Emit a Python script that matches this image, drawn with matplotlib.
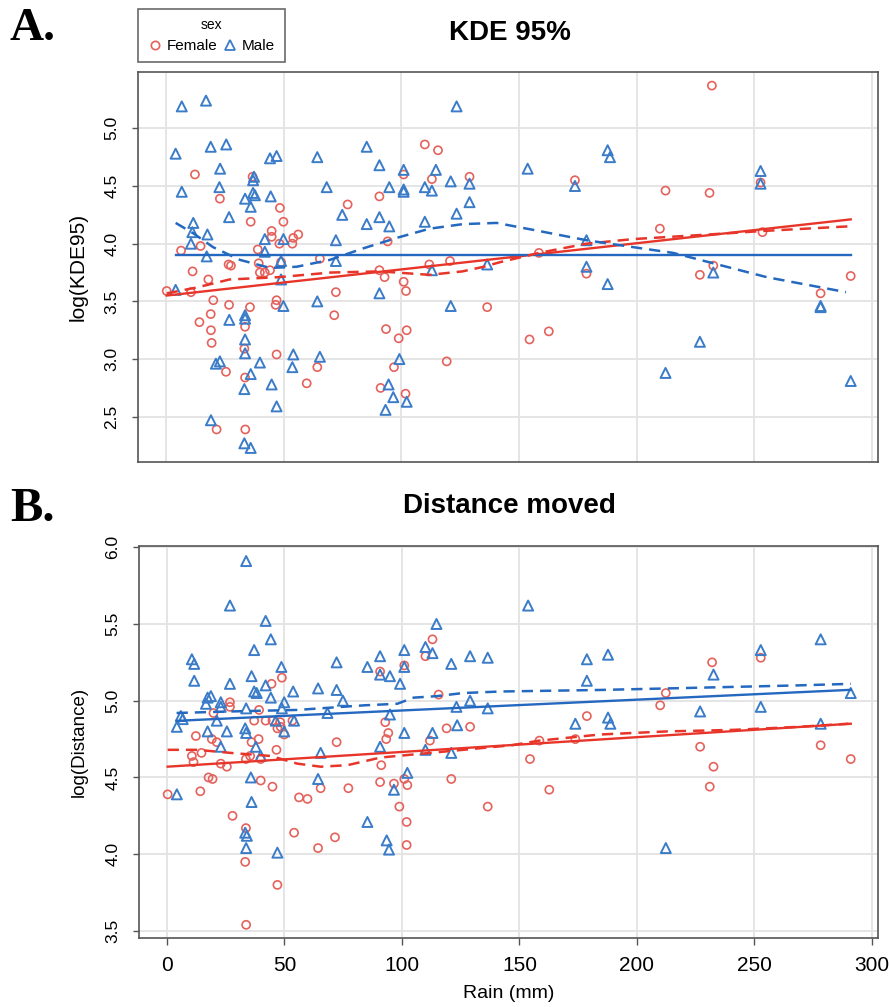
import matplotlib
matplotlib.use("Agg")
import matplotlib.pyplot as plt
import numpy as np
from matplotlib.lines import Line2D

# ---------------- Panel A data: log(KDE95) ----------------
male_rain_A = [6.7, 17, 123.5, 4.1, 19, 25.6, 23, 22.7, 6.7, 37.4, 37, 37, 37.8, 33.6, 36,
               44.2, 47, 44.5, 26.8, 11.6, 11.2, 17.6, 10.6, 17.3, 4.1, 42, 49.9, 42, 48.9,
               48.9, 49.9, 64.3, 68.3, 74.9, 72.2, 72.2, 64.3, 85.3, 90.7, 94.9, 90.7, 85.3,
               94.9, 90.7, 101, 101, 101, 110, 113, 114.7, 121, 129, 129, 123.5, 110, 113,
               121, 136.5, 26.9, 33.6, 33.6, 21.2, 22.9, 33.6, 33.6, 36, 39.9, 33.3, 44.9,
               47, 54.1, 53.7, 65.4, 99.2, 94.6, 96.6, 93.3, 102.3, 19.1, 33.3, 36,
               153.7, 187.7, 188.7, 173.8, 178.7, 178.7, 187.7, 252.7, 252.7, 232.6, 226.9,
               212.3, 278.2, 278.2, 291]
male_kde = [5.19, 5.24, 5.19, 4.78, 4.84, 4.86, 4.65, 4.49, 4.45, 4.58, 4.55, 4.44, 4.42, 4.39, 4.32,
            4.74, 4.76, 4.41, 4.23, 4.18, 4.10, 4.08, 4.00, 3.89, 3.60, 4.04, 4.04, 3.93, 3.85,
            3.69, 3.46, 4.75, 4.49, 4.25, 4.03, 3.85, 3.50, 4.84, 4.68, 4.49, 4.23, 4.17,
            4.15, 3.57, 4.64, 4.47, 4.45, 4.49, 4.46, 4.64, 4.54, 4.52, 4.36, 4.26, 4.19, 3.77,
            3.46, 3.82, 3.34, 3.38, 3.35, 2.96, 2.98, 3.17, 3.05, 2.87, 2.97, 2.74, 2.78,
            2.59, 3.04, 2.93, 3.02, 3.00, 2.78, 2.67, 2.56, 2.63, 2.47, 2.27, 2.23,
            4.65, 4.81, 4.75, 4.50, 4.03, 3.80, 3.65, 4.63, 4.52, 3.75, 3.15,
            2.88, 3.46, 3.45, 2.81]

female_rain_A = [110, 115.6, 101, 113, 129, 12.3, 36.8, 22.9, 90.7, 77.2, 48.4, 49.9, 36, 44.9,
                 44.9, 48.2, 54.1, 56.2, 53.7, 14.7, 6.4, 39, 39.4, 48.9, 26.6, 27.6, 65.4, 94.2,
                 39.9, 42, 44.2, 11.3, 18, 0.3, 10.6, 20.1, 26.8, 19, 14.2, 19.1, 19.4, 33.6,
                 35.7, 47, 46.6, 72.2, 71.5, 90.7, 92.9, 101, 102, 111.9, 120.7, 136.5, 93.5,
                 98.9, 102.3, 33.3, 25.5, 33.6, 47, 64.3, 59.8, 96.9, 91.2, 101.8, 119.3, 21.5,
                 33.7, 232, 173.8, 212.3, 231, 252.7, 209.9, 158.5, 178.7, 226.9, 232.6, 291,
                 278.2, 154.5, 162.7, 253.5]
female_kde = [4.86, 4.81, 4.60, 4.56, 4.58, 4.60, 4.58, 4.39, 4.41, 4.34, 4.31, 4.19, 4.19, 4.11,
              4.06, 4.00, 4.05, 4.08, 4.00, 3.98, 3.94, 3.95, 3.83, 3.84, 3.82, 3.81, 3.87, 4.02,
              3.75, 3.75, 3.77, 3.76, 3.69, 3.59, 3.58, 3.51, 3.47, 3.39, 3.32, 3.25, 3.14, 3.28,
              3.45, 3.51, 3.47, 3.58, 3.38, 3.77, 3.71, 3.67, 3.59, 3.82, 3.85, 3.45, 3.26,
              3.18, 3.25, 3.09, 2.89, 2.84, 3.04, 2.93, 2.79, 2.93, 2.75, 2.70, 2.98, 2.39,
              2.39, 5.37, 4.55, 4.46, 4.44, 4.53, 4.13, 3.92, 3.74, 3.73, 3.81, 3.72,
              3.57, 3.17, 3.24, 4.10]

# fitted lines panel A (intercept, slope) and smoother curves
female_fit_A = (3.55, 0.00227)
male_fit_A = (3.90, 0.0)
female_smooth_A_x = [0.3, 13, 27, 48, 70, 91, 112, 126, 135, 142, 158.5, 178.7, 198.6, 231, 253.5, 290]
female_smooth_A_y = [3.57, 3.62, 3.69, 3.71, 3.75, 3.76, 3.73, 3.76, 3.80, 3.84, 3.92, 4.00, 4.04, 4.08, 4.11, 4.15]
male_smooth_A_x = [4.1, 11.6, 20, 31.4, 44.2, 55.5, 69.7, 83.9, 98, 112, 126.3, 140.5, 156, 178.7, 198.6, 215.6, 232.6, 255.3, 289]
male_smooth_A_y = [4.18, 4.09, 3.97, 3.86, 3.79, 3.80, 3.86, 3.96, 4.05, 4.13, 4.17, 4.18, 4.12, 4.03, 3.97, 3.92, 3.83, 3.71, 3.58]

# ---------------- Panel B data: log(Distance) ----------------
male_rain_B = [33.7, 26.8, 42, 44.2, 37.1, 10.6, 11.6, 11.6, 48.7, 36, 26.8, 37.1, 38.2, 42, 44.2,
               49.9, 53.7, 18.7, 17.3, 16.6, 22.9, 22.9, 33.7, 48.9, 64.3, 72.2, 72.2, 74.9, 85.3,
               90.7, 90.7, 94.9, 99.2, 101, 101, 110, 113, 114.7, 121, 129, 136.5, 123.2, 129,
               136.5, 68.3, 94.9, 5.9, 6.7, 4.2, 21.2, 17.3, 25.5, 33.3, 33.7, 46.3, 49.9, 54.1,
               22.9, 37.8, 39.9, 65.4, 90.7, 101, 113, 123.5, 110, 121, 35.7, 4.2, 64.3, 102.3,
               96.6, 36, 85.3, 33.3, 34, 33.7, 47, 93.5, 94.5,
               153.7, 178.7, 187.7, 178.7, 173.8, 187.7, 188.7, 226.9, 232.6, 252.7, 252.7,
               278.2, 278.2, 291, 212.3]
male_dist = [5.91, 5.62, 5.52, 5.40, 5.33, 5.27, 5.24, 5.13, 5.22, 5.16, 5.11, 5.06, 5.05, 5.10, 5.02,
             4.99, 5.06, 5.03, 5.02, 4.98, 4.99, 4.96, 4.95, 4.95, 5.08, 5.07, 5.25, 5.00, 5.22,
             5.29, 5.17, 5.16, 5.11, 5.33, 5.22, 5.35, 5.31, 5.50, 5.24, 5.29, 5.28, 4.96, 5.00,
             4.95, 4.92, 4.91, 4.90, 4.88, 4.83, 4.87, 4.80, 4.80, 4.82, 4.79, 4.87, 4.80, 4.87,
             4.70, 4.70, 4.64, 4.66, 4.70, 4.79, 4.79, 4.84, 4.68, 4.66, 4.50, 4.39, 4.49, 4.53,
             4.42, 4.34, 4.21, 4.14, 4.12, 4.04, 4.01, 4.09, 4.03,
             5.62, 5.27, 5.30, 5.13, 4.85, 4.89, 4.85, 4.93, 5.17, 5.33, 4.96,
             5.40, 4.85, 5.05, 4.04]

female_rain_B = [113, 110, 101, 90.7, 48.9, 44.5, 115.6, 26.8, 26.8, 19.8, 39.2, 37.1, 42, 44.9,
                 48.2, 48.4, 47, 49.9, 53.4, 12.3, 19.1, 21.2, 39, 36, 46.6, 72.2, 92.9, 94.2,
                 93.3, 111.9, 119, 129, 0.3, 10.6, 11.3, 14.7, 22.9, 25.5, 33.6, 35.4, 39.9,
                 17.7, 19.4, 14.2, 39.9, 44.9, 91.2, 90.7, 96.6, 101, 102.3, 121, 65.4, 77.2,
                 56.2, 59.8, 98.9, 136.5, 27.9, 102, 33.6, 54.1, 71.5, 64.3, 102, 33.3, 47, 33.7,
                 232, 252.7, 212.3, 209.9, 178.7, 158.5, 173.8, 154.5, 162.7, 226.9, 232.6,
                 231, 278.2, 291]
female_dist = [5.40, 5.29, 5.23, 5.19, 5.15, 5.11, 5.04, 4.99, 4.96, 4.92, 4.94, 4.87, 4.87, 4.87,
               4.86, 4.83, 4.82, 4.78, 4.87, 4.77, 4.75, 4.73, 4.75, 4.73, 4.68, 4.73, 4.86, 4.79,
               4.75, 4.74, 4.82, 4.83, 4.39, 4.64, 4.60, 4.66, 4.59, 4.57, 4.62, 4.64, 4.62,
               4.50, 4.49, 4.41, 4.48, 4.44, 4.58, 4.47, 4.46, 4.49, 4.45, 4.49, 4.43, 4.43,
               4.37, 4.36, 4.31, 4.31, 4.25, 4.21, 4.17, 4.14, 4.11, 4.04, 4.06, 3.95, 3.80, 3.54,
               5.25, 5.28, 5.05, 4.97, 4.90, 4.74, 4.75, 4.62, 4.42, 4.70, 4.57,
               4.44, 4.71, 4.62]

female_fit_B = (4.57, 0.000962)
male_fit_B = (4.866, 0.000704)
female_smooth_B_x = [0.3, 13, 27, 44.2, 55.5, 65.4, 76.8, 91, 105, 119, 133, 146.8, 158.5, 184.4, 212.8, 241, 269, 290]
female_smooth_B_y = [4.68, 4.68, 4.66, 4.64, 4.59, 4.57, 4.58, 4.63, 4.65, 4.67, 4.69, 4.71, 4.74, 4.78, 4.80, 4.81, 4.83, 4.85]
male_smooth_B_x = [4.1, 27, 55.5, 84, 98, 105, 115, 126, 142, 184, 213, 241, 269, 291]
male_smooth_B_y = [4.92, 4.93, 4.94, 4.97, 4.98, 5.02, 5.03, 5.05, 5.06, 5.07, 5.08, 5.09, 5.10, 5.11]

x_ticks = [0, 50, 100, 150, 200, 250, 300]
yticks_A = [2.5, 3.0, 3.5, 4.0, 4.5, 5.0]
yticks_B = [3.5, 4.0, 4.5, 5.0, 5.5, 6.0]

# ---------------- styling ----------------
RED_PT = '#E5625C'
BLUE_PT = '#3B7CC9'
RED_LN = '#E8352A'
BLUE_LN = '#2468C0'
GRID = '#E3E3E3'
SPINE = '#555555'

plt.rcParams['font.family'] = ['Liberation Sans', 'DejaVu Sans']

fig = plt.figure(figsize=(8.89, 10.07), dpi=100)
axA = fig.add_axes([138/889, 1-462/1007, 740/889, 390/1007])
axB = fig.add_axes([139/889, 1-938/1007, 739/889, 392/1007])

XLIM = (-11.9, 302.6)


def style(ax, yticks, ylim, show_x):
    ax.set_xlim(*XLIM)
    ax.set_ylim(*ylim)
    ax.set_xticks(x_ticks)
    ax.set_yticks(yticks)
    ax.grid(True, color=GRID, linewidth=1.3, zorder=0)
    ax.set_axisbelow(True)
    for s in ax.spines.values():
        s.set_color(SPINE)
        s.set_linewidth(1.2)
    ax.tick_params(axis='y', direction='out', length=4.5, width=1, color=SPINE,
                   labelsize=12.5, pad=9)
    for lab in ax.get_yticklabels():
        lab.set_rotation(90)
        lab.set_va('center')
    if show_x:
        ax.tick_params(axis='x', direction='out', length=5, width=1, color=SPINE,
                       labelsize=15, pad=8)
    else:
        ax.tick_params(axis='x', length=0, labelbottom=False)


def draw(ax, fr, fv, mr, mv, ffit, mfit, fsx, fsy, msx, msy):
    ax.scatter(fr, fv, s=34, facecolors='none', edgecolors=RED_PT, linewidths=1.2,
               marker='o', zorder=3)
    ax.scatter(mr, mv, s=52, facecolors='none', edgecolors=BLUE_PT, linewidths=1.4,
               marker='^', zorder=3)
    fx = np.array([min(fr), max(fr)])
    ax.plot(fx, ffit[0] + ffit[1]*fx, color=RED_LN, lw=1.7, zorder=4)
    mx = np.array([min(mr), max(mr)])
    ax.plot(mx, mfit[0] + mfit[1]*mx, color=BLUE_LN, lw=1.7, zorder=4)
    ax.plot(fsx, fsy, color=RED_LN, lw=1.8, ls=(0, (4.5, 2.8)), zorder=4)
    ax.plot(msx, msy, color=BLUE_LN, lw=1.8, ls=(0, (4.5, 2.8)), zorder=4)


draw(axA, female_rain_A, female_kde, male_rain_A, male_kde, female_fit_A, male_fit_A,
     female_smooth_A_x, female_smooth_A_y, male_smooth_A_x, male_smooth_A_y)
draw(axB, female_rain_B, female_dist, male_rain_B, male_dist, female_fit_B, male_fit_B,
     female_smooth_B_x, female_smooth_B_y, male_smooth_B_x, male_smooth_B_y)

style(axA, yticks_A, (2.108, 5.488), False)
style(axB, yticks_B, (3.454, 6.008), True)

axA.set_ylabel('log(KDE95)', fontsize=15)
axB.set_ylabel('log(Distance)', fontsize=13.5)
for ax in (axA, axB):
    ax.yaxis.label.set_va('center')
    ax.yaxis.set_label_coords(-60/740, 0.5)
axB.set_xlabel('Rain (mm)', fontsize=14, labelpad=7)

fig.text(510/889, 1-33/1007, 'KDE 95%', ha='center', va='center', fontsize=20, fontweight='bold')
fig.text(509/889, 1-506/1007, 'Distance moved', ha='center', va='center', fontsize=20, fontweight='bold')
fig.text(10/889, 1-29/1007, 'A.', ha='left', va='center', fontsize=34, fontweight='bold',
         family=['Liberation Serif', 'DejaVu Serif'])
fig.text(10/889, 1-509/1007, 'B.', ha='left', va='center', fontsize=35, fontweight='bold',
         family=['Liberation Serif', 'DejaVu Serif'])

handles = [Line2D([], [], ls='none', marker='o', mfc='none', mec=RED_PT, ms=6, mew=1.2),
           Line2D([], [], ls='none', marker='^', mfc='none', mec=BLUE_PT, ms=7, mew=1.3)]
leg = fig.legend(handles, ['Female', 'Male'], title='sex', ncol=2, fontsize=11,
                 title_fontsize=10, loc='upper left', bbox_to_anchor=(138/889, 1-9/1007),
                 borderaxespad=0, frameon=True, fancybox=False, edgecolor='#444444',
                 handletextpad=0.3, columnspacing=0.3, handlelength=1.0, borderpad=0.6,
                 labelspacing=0.45)
leg.get_frame().set_linewidth(1.2)

fig.savefig('out.png', dpi=100)
